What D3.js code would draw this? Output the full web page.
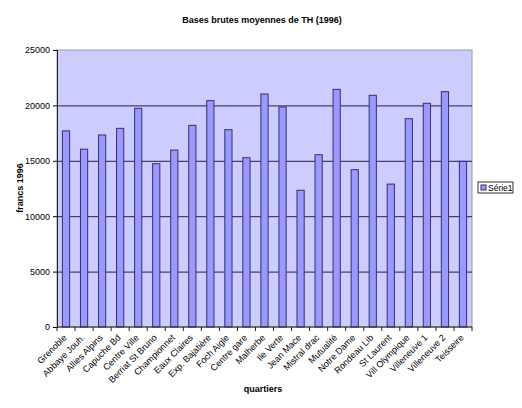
<!DOCTYPE html>
<html>
<head>
<meta charset="utf-8">
<script src="https://cdn.jsdelivr.net/npm/d3@7"></script>
<style>
  body { margin: 0; background: #fff; }
  text { font-family: Arial, "Liberation Sans", sans-serif; }
</style>
</head>
<body>
<div id="chart"></div>
<script>
// quartiers de Grenoble
const quartiers = ["Grenoble", "Abbaye Jouh.", "Allies Alpins", "Capuche Bd", "Centre Ville",
    "Berriat St Bruno", "Championnet", "Eaux Claires", "Exp. Bajatière", "Foch Aigle",
    "Centre gare", "Malherbe", "Ile Verte", "Jean Mace", "Mistral drac", "Mutualité",
    "Notre Dame", "Rondeau Lib", "St Laurent", "Vill Olympique", "Villeneuve 1",
    "Villeneuve 2", "Teisseire"];
// Série1 (francs 1996)
const serie1 = [17700, 16050, 17330, 17930, 19740, 14740, 15970, 18200, 20430, 17810,
    15280, 21030, 19860, 12340, 15550, 21450, 14200, 20910, 12900, 18800, 20190,
    21240, 14950];
const yTicks = [0, 5000, 10000, 15000, 20000, 25000];

const width = 522, height = 408;
const plotLeft = 57, plotRight = 472, plotTop = 50, plotBottom = 327;

const svg = d3.select("#chart").append("svg")
    .attr("width", width).attr("height", height);

const x = d3.scaleBand().domain(quartiers).range([plotLeft, plotRight]);
const y = d3.scaleLinear().domain([0, 25000]).range([plotBottom, plotTop]);

// plot area
svg.append("rect")
    .attr("x", plotLeft).attr("y", plotTop)
    .attr("width", plotRight - plotLeft).attr("height", plotBottom - plotTop)
    .attr("fill", "#ccccff").attr("stroke", "#999999");

// gridlines
svg.append("g").selectAll("line")
    .data(yTicks.filter(d => d > 0 && d < 25000)).enter().append("line")
    .attr("x1", plotLeft).attr("x2", plotRight)
    .attr("y1", d => y(d) + 0.5).attr("y2", d => y(d) + 0.5)
    .attr("stroke", "#222244").attr("stroke-width", 1);

// bars
const bw = x.bandwidth() / 2.5;
svg.append("g").selectAll("rect")
    .data(quartiers).enter().append("rect")
    .attr("x", d => x(d) + (x.bandwidth() - bw) / 2)
    .attr("y", (d, i) => y(serie1[i]))
    .attr("width", bw)
    .attr("height", (d, i) => plotBottom - y(serie1[i]))
    .attr("fill", "#9999ff").attr("stroke", "#333366").attr("stroke-width", 1);

// y axis
const yAxis = svg.append("g")
    .attr("transform", `translate(${plotLeft},0)`)
    .call(d3.axisLeft(y).tickValues(yTicks).tickFormat(d3.format("d")).tickSizeOuter(0).tickSize(4));
yAxis.select(".domain").attr("stroke", "#222");
yAxis.selectAll("text").attr("font-size", 9).attr("fill", "#000").attr("font-family", "Arial");

// x axis with ticks between categories
const xAxis = svg.append("g").attr("transform", `translate(0,${plotBottom})`);
xAxis.append("line").attr("x1", plotLeft).attr("x2", plotRight).attr("stroke", "#222");
xAxis.selectAll(".tk")
    .data(quartiers.concat([null])).enter().append("line")
    .attr("x1", (d, i) => plotLeft + i * x.step()).attr("x2", (d, i) => plotLeft + i * x.step())
    .attr("y1", 0).attr("y2", 4).attr("stroke", "#222");
xAxis.selectAll(".lbl")
    .data(quartiers).enter().append("text")
    .attr("transform", d => `translate(${x(d) + x.bandwidth() / 2 - 1},${9}) rotate(-45)`)
    .attr("text-anchor", "end")
    .attr("dy", "0.35em")
    .attr("font-size", 9)
    .text(d => d);

// titles
svg.append("text").attr("x", 262).attr("y", 23).attr("text-anchor", "middle")
    .attr("font-size", 9).attr("font-weight", "bold").text("Bases brutes moyennes de TH  (1996)");
svg.append("text").attr("transform", "translate(23,188) rotate(-90)")
    .attr("text-anchor", "middle").attr("font-size", 9).attr("font-weight", "bold")
    .text("francs 1996");
svg.append("text").attr("x", 263).attr("y", 392).attr("text-anchor", "middle")
    .attr("font-size", 9).attr("font-weight", "bold").text("quartiers");

// legend
const lg = svg.append("g").attr("transform", "translate(478,182)");
lg.append("rect").attr("width", 35).attr("height", 11).attr("fill", "#fff").attr("stroke", "#333");
lg.append("rect").attr("x", 3).attr("y", 3).attr("width", 5).attr("height", 5)
    .attr("fill", "#9999ff").attr("stroke", "#333366");
lg.append("text").attr("x", 10).attr("y", 9).attr("font-size", 8.5).text("Série1");
</script>
</body>
</html>
